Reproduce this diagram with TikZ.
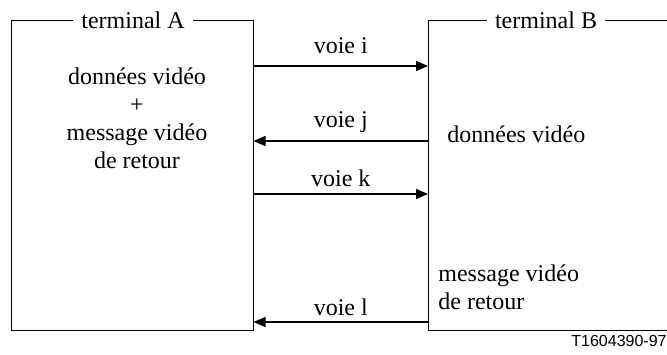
\documentclass[tikz,border=0pt]{standalone}
\usepackage{fontspec}
\setmainfont{Liberation Serif}
\setsansfont{Liberation Sans}
\usetikzlibrary{arrows.meta,positioning,calc}

\begin{document}
\begin{tikzpicture}[x=0.5pt, y=-0.5pt,
    box/.style={draw, line width=0.5pt, inner sep=0pt},
    titre/.style={fill=white, inner xsep=4pt, inner ysep=1pt, font=\fontsize{12}{14}\selectfont},
    texte/.style={font=\fontsize{12}{14}\selectfont, inner sep=0pt},
    voie/.style={line width=0.8pt, -{Triangle[length=6pt,width=5pt]}},
    etiq/.style={anchor=base, inner sep=0pt, font=\fontsize{12}{14}\selectfont}]
  \useasboundingbox (0,0) rectangle (667,354);

  % terminal A
  \node[box, minimum width=121pt, minimum height=155pt] (termA) at (132,175) {};
  \node[titre] (titreA) at (133,20) {terminal A};
  \node[texte, align=center] (texteA) at (137,118)
    {données vidéo\\+\\message vidéo\\de retour};

  % terminal B (ouvert à droite)
  \coordinate (Bnw) at (428,20);
  \coordinate (Bsw) at (termA.south -| Bnw);
  \draw[line width=0.5pt] (667,20) -- (Bnw) -- (Bsw) -- (Bsw -| 667,0);
  \node[titre] (titreB) at (546,20) {terminal B};
  \node[texte, anchor=west] (donneesB) at (447,134) {données vidéo};
  \node[texte, anchor=west, align=left] (messageB) at (438,287)
    {message vidéo\\de retour};

  % voies
  \coordinate (Bi) at (428,66);
  \coordinate (Bj) at (428,141);
  \coordinate (Bk) at (428,194);
  \coordinate (Bl) at (428,322);
  \draw[voie] (Bi -| termA.east) -- node[etiq, yshift=6.5pt] (voieI) {voie i} (Bi);
  \draw[voie] (Bj) -- node[etiq, yshift=7pt] (voieJ) {voie j} (Bj -| termA.east);
  \draw[voie] (Bk -| termA.east) -- node[etiq, yshift=4pt] (voieK) {voie k} (Bk);
  \draw[voie] (Bl) -- node[etiq, yshift=3.5pt] (voieL) {voie l} (Bl -| termA.east);

  % référence
  \node[anchor=east, inner sep=0pt, font=\sffamily\fontsize{8}{9}\selectfont] (ref) at (667,341) {T1604390-97};
\end{tikzpicture}
\end{document}
